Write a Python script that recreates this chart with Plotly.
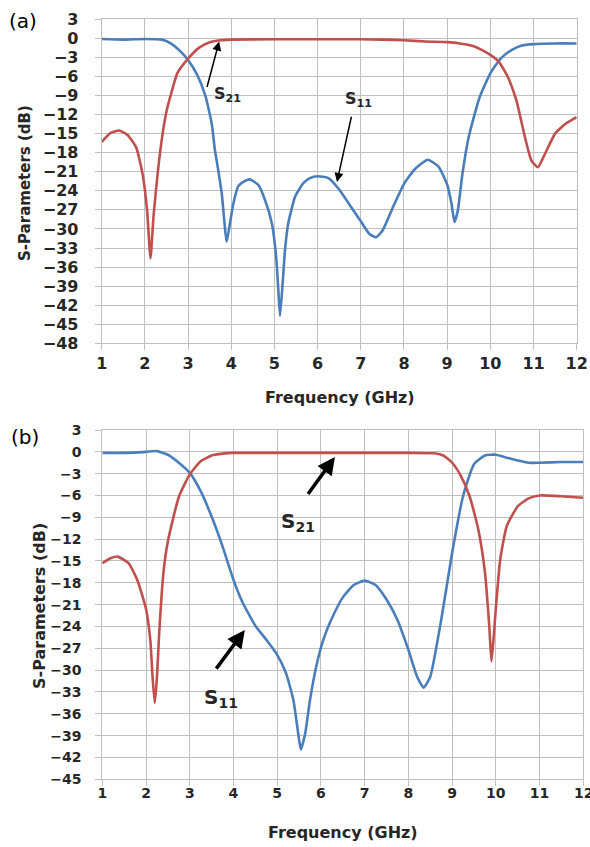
import plotly.graph_objects as go

# ---------------- Panel (a) data ----------------
fa_s21 = [1.0, 1.2, 1.4, 1.6, 1.8, 1.95, 2.05, 2.13, 2.2, 2.3, 2.4, 2.5, 2.6, 2.75, 3.0, 3.25,
          3.5, 3.75, 4.0, 5.0, 6.0, 7.0, 7.5, 8.0, 8.5, 9.0, 9.3, 9.6, 9.8, 10.0, 10.2, 10.4,
          10.6, 10.8, 10.95, 11.1, 11.25, 11.5, 11.75, 12.0]
sa_s21 = [-16.3, -14.9, -14.5, -15.2, -17.2, -21.5, -27.0, -34.6, -28.0, -21.0, -15.5, -11.5,
          -8.9, -5.5, -3.2, -1.5, -0.6, -0.3, -0.2, -0.15, -0.15, -0.15, -0.2, -0.3, -0.5, -0.6,
          -0.8, -1.2, -1.8, -2.6, -3.7, -6.0, -9.7, -15.5, -19.2, -20.3, -18.4, -15.0, -13.4, -12.4]

fa_s11 = [1.0, 1.5, 2.0, 2.4, 2.6, 2.8, 3.0, 3.2, 3.4, 3.55, 3.62, 3.7, 3.78, 3.895, 3.97,
          4.05, 4.16, 4.28, 4.43, 4.63, 4.78, 4.94, 5.04, 5.09, 5.13, 5.19, 5.245, 5.32, 5.48,
          5.67, 5.82, 6.0, 6.25, 6.5, 6.75, 7.0, 7.2, 7.35, 7.5, 7.75, 8.0, 8.25, 8.55, 8.8,
          9.0, 9.1, 9.17, 9.25, 9.35, 9.5, 9.75, 10.0, 10.25, 10.5, 10.75, 11.0, 11.5, 12.0]
sa_s11 = [-0.1, -0.2, -0.1, -0.2, -0.8, -1.9, -3.4, -5.6, -9.0, -13.5, -17.5, -20.8, -24.4,
          -32.0, -29.1, -26.0, -23.3, -22.6, -22.2, -23.1, -25.4, -29.1, -34.4, -39.6, -43.7,
          -38.6, -33.3, -29.1, -24.9, -22.8, -22.0, -21.7, -22.0, -23.8, -26.3, -28.8, -30.8,
          -31.3, -30.3, -26.5, -22.9, -20.6, -19.1, -20.2, -23.0, -26.0, -28.9, -27.0, -21.5,
          -15.5, -9.3, -5.5, -3.1, -1.8, -1.1, -0.9, -0.8, -0.8]

# ---------------- Panel (b) data ----------------
fb_s21 = [1.0, 1.2, 1.35, 1.6, 1.8, 2.0, 2.1, 2.15, 2.2, 2.25, 2.3, 2.4, 2.5, 2.75, 3.0, 3.25,
          3.5, 3.75, 4.0, 5.0, 6.0, 7.0, 8.0, 8.6, 8.8, 9.0, 9.2, 9.4, 9.6, 9.75, 9.85, 9.9,
          9.95, 10.0, 10.1, 10.25, 10.5, 10.75, 11.0, 11.5, 12.0]
sb_s21 = [-15.3, -14.6, -14.4, -15.3, -17.6, -21.6, -26.0, -31.0, -34.5, -31.0, -25.0, -16.5,
          -12.3, -6.2, -3.1, -1.3, -0.5, -0.25, -0.15, -0.15, -0.15, -0.15, -0.15, -0.2, -0.5,
          -1.5, -3.3, -6.1, -10.7, -16.5, -24.0, -28.8, -25.5, -21.5, -14.8, -10.2, -7.5, -6.4,
          -6.0, -6.1, -6.3]

fb_s11 = [1.0, 1.5, 2.0, 2.25, 2.5, 2.75, 3.0, 3.25, 3.5, 3.75, 4.0, 4.2, 4.5, 4.76, 5.0,
          5.2, 5.37, 5.48, 5.54, 5.64, 5.75, 5.9, 6.05, 6.28, 6.5, 6.75, 7.0, 7.25, 7.5, 7.75,
          8.0, 8.2, 8.35, 8.5, 8.75, 9.0, 9.25, 9.5, 9.75, 10.0, 10.25, 10.5, 10.75, 11.0,
          11.5, 12.0]
sb_s11 = [-0.15, -0.15, 0.0, 0.1, -0.4, -1.5, -2.9, -5.4, -8.9, -13.0, -17.6, -20.6, -23.9,
          -25.9, -27.9, -30.4, -34.1, -38.7, -40.9, -38.7, -34.1, -29.3, -25.9, -22.5, -20.0,
          -18.3, -17.7, -18.3, -20.3, -23.1, -27.2, -30.9, -32.4, -30.9, -23.1, -13.9, -6.1,
          -1.7, -0.5, -0.4, -0.8, -1.2, -1.5, -1.5, -1.4, -1.4]

x_ticks = list(range(1, 13))
ya_ticks = list(range(3, -49, -3))
yb_ticks = list(range(3, -46, -3))

RED = "#C0504D"
BLUE = "#4A7EBB"
GRID = "#BFBFBF"
TXT = "#262626"
FONT = "DejaVu Sans"

W, H = 590, 847

fig = go.Figure()
line_kw = dict(shape="spline", smoothing=0.5, width=2.6)
fig.add_trace(go.Scatter(x=fa_s11, y=sa_s11, mode="lines", line=dict(color=BLUE, **line_kw),
                         xaxis="x", yaxis="y", showlegend=False))
fig.add_trace(go.Scatter(x=fa_s21, y=sa_s21, mode="lines", line=dict(color=RED, **line_kw),
                         xaxis="x", yaxis="y", showlegend=False))
fig.add_trace(go.Scatter(x=fb_s11, y=sb_s11, mode="lines", line=dict(color=BLUE, **line_kw),
                         xaxis="x2", yaxis="y2", showlegend=False))
fig.add_trace(go.Scatter(x=fb_s21, y=sb_s21, mode="lines", line=dict(color=RED, **line_kw),
                         xaxis="x2", yaxis="y2", showlegend=False))

def axis_style(size, standoff):
    return dict(showgrid=True, gridcolor=GRID, gridwidth=1, showline=True, linecolor=GRID,
                linewidth=1, mirror=True, ticks="outside", ticklen=6, tickcolor=GRID,
                zeroline=False, ticklabelstandoff=standoff, automargin=False,
                tickfont=dict(family=FONT, size=size, color=TXT, weight="bold"))

def px_x(p):
    return p / W

def px_y(p):
    return 1 - p / H

fig.update_layout(
    width=W, height=H, margin=dict(l=0, r=0, t=0, b=0, autoexpand=False),
    paper_bgcolor="white", plot_bgcolor="white",
    xaxis=dict(domain=[px_x(101.7), px_x(576.7)], range=[1, 12], tickvals=x_ticks,
               anchor="y", **axis_style(16, -1)),
    yaxis=dict(domain=[px_y(343.3), px_y(19.3)], range=[-48, 3], tickvals=ya_ticks,
               anchor="x", **axis_style(16, 13)),
    xaxis2=dict(domain=[px_x(102.3), px_x(583.3)], range=[1, 12], tickvals=x_ticks,
                anchor="y2", **axis_style(14, -5)),
    yaxis2=dict(domain=[px_y(779.3), px_y(430)], range=[-45, 3], tickvals=yb_ticks,
                anchor="x2", **axis_style(14, 11)),
)

ann = []
def paper_text(text, x, y, size, bold=True, angle=0):
    ann.append(dict(text=text, x=px_x(x), y=px_y(y), xref="paper", yref="paper",
                    xanchor="center", yanchor="middle", showarrow=False, textangle=angle,
                    font=dict(family=FONT, size=size, color=TXT if bold else "black",
                              weight="bold" if bold else "normal")))

# panel labels
paper_text("(a)", 23, 21, 20, bold=False)
paper_text("(b)", 25, 437, 20, bold=False)
# axis titles
paper_text("S-Parameters (dB)", 25, 183, 15, angle=-90)
paper_text("S-Parameters (dB)", 39, 606, 16, angle=-90)
paper_text("Frequency (GHz)", 340, 397, 16)
paper_text("Frequency (GHz)", 343, 832, 16)

# last x tick label of panel (b), which runs off the right edge as in the reference
ann.append(dict(text=str(x_ticks[-1]), x=x_ticks[-1], y=px_y(792.5), xref="x2", yref="paper",
                xanchor="center", yanchor="middle", showarrow=False,
                font=dict(family=FONT, size=14, color=TXT, weight="bold")))

def data_text(text, x, y, xr, yr, size):
    ann.append(dict(text=text, x=x, y=y, xref=xr, yref=yr, xanchor="center", yanchor="middle",
                    showarrow=False, font=dict(family=FONT, size=size, color=TXT, weight="bold")))

def arrow(x, y, ax, ay, xr, yr, width, size):
    ann.append(dict(text="", x=x, y=y, ax=ax, ay=ay, xref=xr, yref=yr, axref=xr, ayref=yr,
                    showarrow=True, arrowhead=2, arrowsize=size, arrowwidth=width,
                    arrowcolor="black"))

# panel (a) labels and arrows
data_text("S<sub>21</sub>", 3.92, -8.9, "x", "y", 16)
arrow(3.72, -0.5, 3.43, -7.9, "x", "y", 1.5, 1.2)
data_text("S<sub>11</sub>", 6.94, -9.7, "x", "y", 16)
arrow(6.45, -22.6, 6.79, -12.1, "x", "y", 1.5, 1.2)

# panel (b) labels and arrows
data_text("S<sub>21</sub>", 5.48, -9.6, "x2", "y2", 20)
arrow(6.32, -0.7, 5.68, -6.0, "x2", "y2", 3.5, 1)
data_text("S<sub>11</sub>", 3.71, -33.8, "x2", "y2", 20)
arrow(4.26, -24.5, 3.58, -30.0, "x2", "y2", 3.5, 1)

fig.update_layout(annotations=ann)
fig.write_html("out.html", config={"displayModeBar": False},
               post_script="document.body.style.margin='0px';")
